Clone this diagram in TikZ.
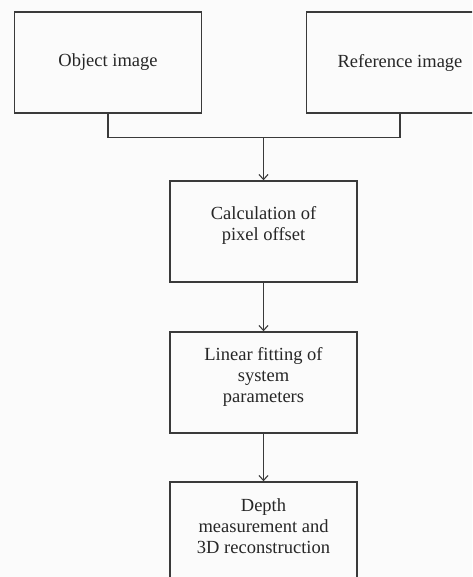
\documentclass[tikz,border=0pt]{standalone}
\usepackage{fontspec}
\setmainfont{Liberation Serif}
\usetikzlibrary{arrows.meta}
\definecolor{ln}{HTML}{3A3A3A}
\definecolor{bg}{HTML}{FBFBFB}
\begin{document}
\begin{tikzpicture}[x=1pt,y=-1pt,
  box/.style={draw=ln,line width=1.4pt,minimum width=187pt,minimum height=101pt,
    align=center,inner sep=0pt,font=\fontsize{18.5}{21}\selectfont,text=black!85},
  conn/.style={draw=ln,line width=1.3pt},
  arr/.style={conn,-{Straight Barb[length=5pt,width=9pt,line width=1.1pt]}}]
\clip (0,0) rectangle (472,577);
\fill[bg] (0,0) rectangle (472,577);
\node[box] (obj) at (108,62.5) {Object image};
\node[box] (ref) at (400,62.5) {Reference image};
\node[box] (calc) at (263.5,231.5) {Calculation of\\pixel offset\\[-4pt]};
\node[box] (lin) at (263.5,382.5) {Linear fitting of\\system\\parameters\\[-6pt]};
\node[box] (dep) at (263.5,532.5) {Depth\\measurement and\\3D reconstruction\\[-8pt]};
\coordinate (j) at (263.5,137.5);
\draw[conn] (obj.south) |- (j) -| (ref.south);
\draw[arr] (j) -- (calc.north);
\draw[arr] (calc.south) -- (lin.north);
\draw[arr] (lin.south) -- (dep.north);
\end{tikzpicture}
\end{document}
